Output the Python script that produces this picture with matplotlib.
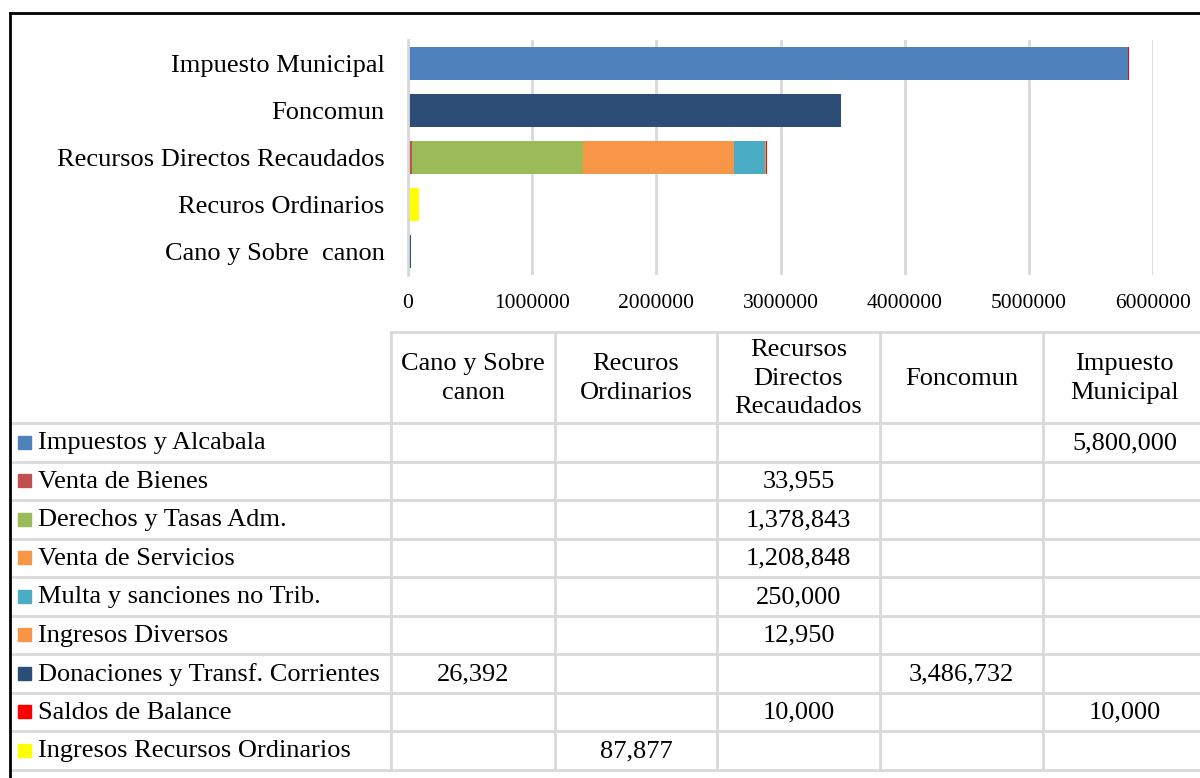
import matplotlib
matplotlib.use("Agg")
import matplotlib.pyplot as plt
from matplotlib.patches import Rectangle

plt.rcParams['font.family'] = ['Liberation Serif', 'DejaVu Serif']

# Data (columns of the data table, bottom bar first)
columns = ["Cano y Sobre  canon", "Recuros Ordinarios", "Recursos Directos Recaudados",
           "Foncomun", "Impuesto Municipal"]
header_labels = ["Cano y Sobre\ncanon", "Recuros\nOrdinarios", "Recursos\nDirectos\nRecaudados",
                 "Foncomun", "Impuesto\nMunicipal"]

series_names = ["Impuestos y Alcabala", "Venta de Bienes", "Derechos y Tasas Adm.",
                "Venta de Servicios", "Multa y sanciones no Trib.", "Ingresos Diversos",
                "Donaciones y Transf. Corrientes", "Saldos de Balance",
                "Ingresos Recursos Ordinarios"]

impuestos_alcabala = [0, 0, 0, 0, 5800000]
venta_bienes = [0, 0, 33955, 0, 0]
derechos_tasas = [0, 0, 1378843, 0, 0]
venta_servicios = [0, 0, 1208848, 0, 0]
multa_sanciones = [0, 0, 250000, 0, 0]
ingresos_diversos = [0, 0, 12950, 0, 0]
donaciones = [26392, 0, 0, 3486732, 0]
saldos_balance = [0, 0, 10000, 0, 10000]
ingresos_ro = [0, 87877, 0, 0, 0]

series_values = [impuestos_alcabala, venta_bienes, derechos_tasas, venta_servicios,
                 multa_sanciones, ingresos_diversos, donaciones, saldos_balance, ingresos_ro]
colors = ["#4F81BD", "#C0504D", "#9BBB59", "#F79646", "#4BACC6", "#F79646",
          "#2C4D75", "#FF0000", "#FFFF00"]

W, H = 1200, 778
fig = plt.figure(figsize=(W / 100, H / 100), dpi=100)

# Bar chart
ax = fig.add_axes([408 / W, 1 - 275 / H, 745 / W, 235 / H])
left = [0] * len(columns)
ypos = list(range(len(columns)))
for name, vals, c in zip(series_names, series_values, colors):
    ax.barh(ypos, vals, left=left, height=0.72, color=c, label=name)
    left = [a + b for a, b in zip(left, vals)]

ax.set_xlim(0, 6000000)
ax.set_ylim(-0.5, 4.5)
ax.set_xticks(range(0, 6000001, 1000000))
ax.set_xticklabels([str(v) for v in range(0, 6000001, 1000000)], fontsize=15.5)
ax.set_yticks(ypos)
ax.set_yticklabels(columns, fontsize=19)
ax.tick_params(axis='both', length=0)
ax.tick_params(axis='x', pad=14)
ax.tick_params(axis='y', pad=17)
ax.grid(axis='x', color='#D9D9D9', linewidth=2)
ax.set_axisbelow(True)
for s in ['top', 'right', 'bottom']:
    ax.spines[s].set_visible(False)
ax.spines['left'].set_color('#D9D9D9')
ax.spines['left'].set_linewidth(2)

# Data table drawn in pixel coordinates
tab = fig.add_axes([0, 0, 1, 1])
tab.set_xlim(0, W)
tab.set_ylim(H, 0)
tab.axis('off')
tab.patch.set_alpha(0)

grid_c = '#D9D9D9'
col_x = [391, 555, 717, 880, 1043, 1206]
head_top, head_bot = 332, 423
row_h = 38.5
n_rows = len(series_names)
table_bot = head_bot + n_rows * row_h

tab.plot([col_x[0], W + 10], [head_top, head_top], color=grid_c, lw=2)
for i in range(n_rows + 1):
    y = head_bot + i * row_h
    tab.plot([10, W + 10], [y, y], color=grid_c, lw=2)
for x in col_x:
    tab.plot([x, x], [head_top, table_bot], color=grid_c, lw=2)

for j, lab in enumerate(header_labels):
    cx = (col_x[j] + col_x[j + 1]) / 2
    tab.text(cx, (head_top + head_bot) / 2 + 1, lab, ha='center', va='center',
             fontsize=19, linespacing=1.38)

for i, (name, vals, c) in enumerate(zip(series_names, series_values, colors)):
    cy = head_bot + (i + 0.5) * row_h
    tab.add_patch(Rectangle((18, cy - 6.5), 13, 13, color=c))
    tab.text(38, cy + 1, name, ha='left', va='center', fontsize=19)
    for j, v in enumerate(vals):
        if v:
            cx = (col_x[j] + col_x[j + 1]) / 2
            tab.text(cx, cy + 1, f"{v:,}", ha='center', va='center', fontsize=19)

# Outer border (left and top)
tab.plot([10, 10], [13, H + 5], color='black', lw=2)
tab.plot([10, W + 5], [13, 13], color='black', lw=2)

fig.savefig("out.png", dpi=100)
